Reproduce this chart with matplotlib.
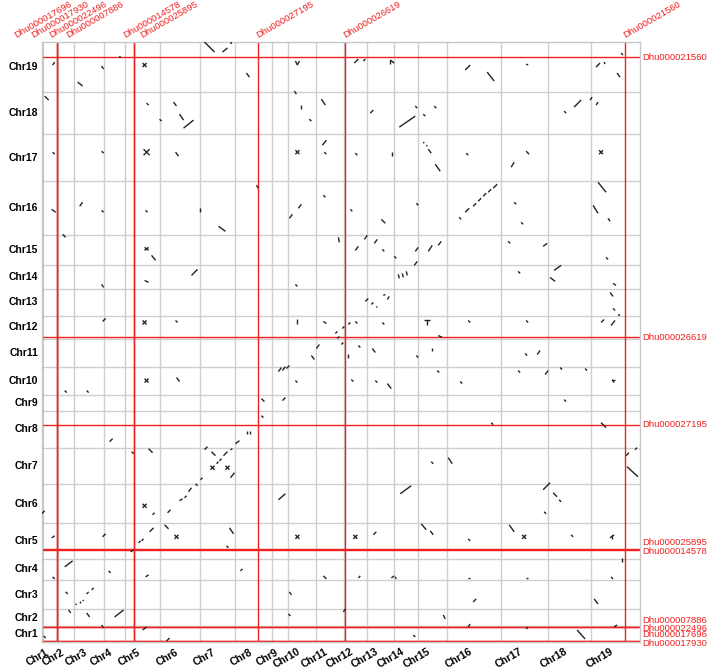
import numpy as np
import matplotlib
matplotlib.use("Agg")
import matplotlib.pyplot as plt
from matplotlib.collections import LineCollection
import matplotlib.transforms as mtransforms

plt.rcParams['font.family'] = ['Liberation Sans', 'DejaVu Sans']

# chromosome names and lengths (same genome on both axes)
chroms = ["Chr%d" % i for i in range(1, 20)]
chrom_len = [16, 16.5, 29.5, 21, 35.5, 39.5, 36, 36.5, 16, 28, 28, 23, 27, 24,
             29.5, 54, 47, 42.5, 49.5]

# highlighted genes: chromosome index (1-based) and position within chromosome
genes = ["Dhu000017696", "Dhu000017930", "Dhu000022496", "Dhu000007886",
         "Dhu000014578", "Dhu000025895", "Dhu000027195", "Dhu000026619",
         "Dhu000021560"]
gene_chr = [1, 1, 1, 1, 5, 5, 8, 12, 19]
gene_pos = [0.5, 0.5, 15.0, 15.3, 9.3, 9.6, 22.8, 1.5, 34.3]

# collinear blocks (x0, y0, x1, y1) on the concatenated genome, grouped by y chromosome
row_chr19 = [(162, 600, 173, 589), (181, 589, 186, 593), (189, 600, 190, 597),
             (11, 576, 13, 579), (36, 559, 41, 555), (60, 575, 62, 572),
             (78, 585, 79, 583), (101, 578, 105, 574), (101, 574, 105, 578),
             (205, 568, 208, 564), (254, 580, 256, 576), (258, 580, 256, 576),
             (313, 578, 317, 582), (322, 580, 324, 582), (349, 581, 353, 578),
             (349, 581, 349, 577), (424, 571, 429, 576), (446, 569, 453, 560),
             (485, 577, 487, 576), (555, 574, 559, 578), (563, 579, 564, 577),
             (580, 588, 582, 586), (576, 568, 579, 564)]
row_chr18 = [(3, 545, 7, 541), (105, 538, 107, 536), (118, 522, 120, 520),
             (132, 539, 135, 535), (138, 527, 142, 521), (142, 513, 152, 521),
             (253, 550, 255, 547), (260, 536, 260, 532), (268, 522, 270, 520),
             (280, 542, 284, 536), (329, 528, 332, 531), (358, 514, 374, 525),
             (374, 535, 376, 533), (382, 527, 384, 525), (393, 535, 395, 533),
             (523, 530, 525, 528), (533, 534, 540, 541), (549, 541, 551, 544),
             (555, 536, 557, 539)]
row_chr17 = [(11, 489, 13, 487), (60, 490, 62, 488), (102, 492, 108, 486),
             (102, 486, 108, 492), (134, 489, 137, 485), (254, 491, 258, 487),
             (254, 487, 258, 491), (281, 496, 285, 501), (283, 489, 285, 487),
             (314, 488, 316, 486), (351, 489, 351, 485), (382, 499, 383, 498),
             (385, 496, 386, 495), (387, 492, 390, 488), (394, 477, 399, 470),
             (425, 488, 427, 486), (470, 474, 473, 479), (485, 490, 488, 487),
             (558, 491, 562, 487), (558, 487, 562, 491)]
row_chr16 = [(10, 432, 14, 429), (38, 435, 41, 439), (60, 431, 62, 429),
             (104, 431, 106, 429), (158, 433, 158, 429), (177, 415, 184, 410),
             (215, 456, 217, 453), (248, 423, 251, 427), (257, 433, 260, 437),
             (282, 446, 284, 444), (309, 432, 311, 430), (340, 422, 344, 418),
             (375, 438, 377, 436), (418, 424, 420, 422), (424, 429, 428, 433),
             (432, 435, 435, 438), (437, 440, 440, 443), (442, 445, 445, 448),
             (447, 449, 450, 452), (452, 453, 456, 457), (473, 439, 475, 437),
             (480, 419, 482, 417), (552, 436, 557, 428), (557, 459, 565, 449),
             (567, 423, 569, 420)]
row_chr15 = [(21, 407, 24, 404), (103, 394, 107, 391), (103, 391, 107, 394),
             (110, 386, 114, 381), (297, 404, 298, 399), (314, 391, 317, 395),
             (323, 402, 326, 406), (333, 398, 336, 402), (341, 392, 343, 390),
             (353, 385, 355, 383), (374, 390, 377, 394), (387, 390, 391, 396),
             (397, 396, 400, 400), (467, 400, 469, 398), (502, 395, 506, 398),
             (565, 384, 567, 382), (373, 376, 376, 380)]
row_chr14 = [(60, 357, 62, 354), (103, 361, 107, 359), (150, 366, 156, 372),
             (254, 357, 256, 355), (357, 367, 358, 363), (361, 368, 362, 364),
             (365, 370, 366, 366), (513, 371, 520, 376), (509, 364, 514, 360),
             (572, 358, 575, 356), (477, 370, 479, 368)]
row_chr13 = [(324, 340, 327, 343), (330, 337, 332, 339), (335, 334, 336, 335),
             (342, 346, 344, 347), (346, 342, 348, 345), (569, 349, 572, 345),
             (572, 333, 574, 331)]
row_chr12 = [(61, 320, 64, 323), (101, 321, 105, 317), (101, 317, 105, 321),
             (134, 321, 136, 319), (256, 322, 256, 317), (282, 320, 285, 318),
             (314, 320, 316, 318), (341, 319, 343, 317), (383, 321, 389, 321),
             (386, 321, 386, 316), (427, 321, 429, 319), (485, 321, 487, 319),
             (560, 319, 563, 322), (570, 316, 574, 321), (577, 326, 579, 327),
             (294, 308, 296, 310), (301, 313, 303, 315), (307, 317, 309, 319)]
row_chr11 = [(296, 303, 298, 305), (300, 297, 302, 299), (270, 286, 273, 282),
             (275, 293, 278, 297), (307, 288, 307, 284), (317, 296, 319, 294),
             (331, 293, 334, 289), (375, 286, 377, 284), (391, 294, 391, 291),
             (397, 306, 401, 304), (484, 288, 486, 286), (496, 287, 499, 291)]
row_chr10 = [(103, 263, 107, 259), (103, 259, 107, 263), (135, 264, 138, 260),
             (237, 270, 240, 274), (241, 271, 244, 275), (245, 273, 248, 276),
             (254, 261, 256, 259), (310, 262, 312, 260), (334, 261, 336, 259),
             (346, 258, 350, 253), (396, 271, 398, 269), (419, 260, 421, 258),
             (477, 271, 479, 269), (504, 267, 507, 271), (519, 274, 521, 272),
             (544, 273, 546, 271), (571, 262, 573, 259), (571, 262, 574, 262),
             (23, 251, 25, 249), (45, 251, 47, 249)]
row_chr9 = [(220, 243, 223, 240), (241, 241, 244, 244), (523, 242, 525, 240)]
row_chr8 = [(68, 200, 71, 203), (206, 211, 206, 208), (209, 211, 209, 208),
            (220, 226, 222, 224), (450, 219, 452, 217), (560, 219, 565, 214)]
row_chr7 = [(194, 198, 198, 201), (189, 192, 191, 193), (182, 186, 186, 190),
            (170, 190, 174, 186), (175, 178, 177, 180), (178, 181, 180, 183),
            (169, 176, 173, 172), (169, 172, 173, 176), (184, 176, 188, 172),
            (184, 172, 188, 176), (189, 164, 193, 169), (163, 192, 166, 195),
            (159, 162, 161, 164), (90, 190, 92, 188), (107, 193, 111, 189),
            (407, 184, 411, 178), (390, 180, 392, 178), (585, 186, 588, 189),
            (594, 192, 596, 194), (586, 175, 597, 165)]
row_chr6 = [(0, 128, 3, 131), (154, 158, 156, 156), (147, 150, 150, 154),
            (143, 144, 145, 146), (138, 141, 141, 143), (126, 129, 129, 132),
            (111, 127, 113, 129), (101, 138, 105, 134), (101, 134, 105, 138),
            (237, 142, 244, 148), (359, 148, 370, 156), (502, 152, 509, 159),
            (512, 149, 516, 145), (518, 142, 520, 140), (503, 130, 505, 128)]
row_chr5 = [(10, 104, 13, 106), (61, 105, 64, 108), (97, 99, 99, 101),
            (100, 101, 102, 103), (89, 90, 92, 92), (108, 110, 112, 114),
            (123, 117, 127, 113), (133, 107, 137, 103), (133, 103, 137, 107),
            (188, 114, 192, 108), (185, 96, 187, 94), (254, 107, 258, 103),
            (254, 103, 258, 107), (312, 107, 316, 103), (312, 103, 316, 107),
            (332, 107, 335, 110), (380, 118, 385, 112), (389, 111, 392, 107),
            (427, 103, 429, 101), (468, 117, 473, 110), (481, 107, 485, 103),
            (481, 103, 485, 107), (530, 107, 532, 105), (569, 104, 573, 107),
            (571, 107, 571, 103), (581, 84, 581, 80)]
row_chr4 = [(11, 65, 13, 63), (23, 75, 31, 81), (67, 71, 69, 69),
            (104, 65, 107, 67), (199, 71, 201, 73), (282, 66, 285, 63),
            (317, 64, 319, 66), (350, 64, 353, 66), (354, 65, 355, 63),
            (427, 64, 429, 64), (485, 64, 487, 64), (570, 65, 572, 63)]
row_chr3 = [(24, 50, 26, 48), (34, 37, 35, 38), (38, 39, 38, 41),
            (41, 41, 42, 42), (45, 48, 47, 50), (50, 52, 52, 54),
            (248, 50, 250, 47), (432, 40, 435, 43), (553, 43, 557, 38)]
row_chr2 = [(27, 32, 29, 29), (45, 29, 48, 25), (73, 25, 82, 32),
            (247, 28, 249, 26), (302, 30, 304, 33), (402, 27, 404, 23),
            (427, 15, 429, 18), (536, 12, 544, 3), (573, 15, 576, 17)]
row_chr1 = [(2, 6, 4, 4), (60, 17, 62, 14), (101, 12, 105, 15),
            (125, 1, 128, 4), (372, 7, 374, 5), (485, 13, 487, 15)]

blocks = (row_chr19 + row_chr18 + row_chr17 + row_chr16 + row_chr15 + row_chr14 +
          row_chr13 + row_chr12 + row_chr11 + row_chr10 + row_chr9 + row_chr8 +
          row_chr7 + row_chr6 + row_chr5 + row_chr4 + row_chr3 + row_chr2 + row_chr1)

bounds = np.concatenate([[0], np.cumsum(chrom_len)])
total = bounds[-1]
centers = (bounds[:-1] + bounds[1:]) / 2.0
gene_abs = np.array([bounds[c - 1] + p for c, p in zip(gene_chr, gene_pos)])

fig = plt.figure(figsize=(7.09, 6.70), dpi=100)
ax = fig.add_axes([0.0588, 0.0418, 0.8439, 0.8955])
ax.set_xlim(0, total)
ax.set_ylim(0, total)
ax.set_xticks([])
ax.set_yticks([])
for s in ax.spines.values():
    s.set_color("#c8c8c8")
    s.set_linewidth(1.0)

grey = "#cfcfcf"
for b in bounds[1:-1]:
    ax.axvline(b, color=grey, lw=1.0, zorder=1)
    ax.axhline(b, color=grey, lw=1.0, zorder=1)

red = "#f02020"
for g in gene_abs:
    ax.axvline(g, color=red, lw=1.0, zorder=2)
    ax.axhline(g, color=red, lw=1.0, zorder=2)

segs = [[(b[0], b[1]), (b[2], b[3])] for b in blocks]
ax.add_collection(LineCollection(segs, colors="#222222", linewidths=1.0, zorder=3))

# chromosome labels
tr_left = mtransforms.blended_transform_factory(ax.transAxes, ax.transData)
tr_bot = mtransforms.blended_transform_factory(ax.transData, ax.transAxes)
shift_bot = tr_bot + mtransforms.ScaledTranslation(-5 / 100, 0, fig.dpi_scale_trans)
for c, name in zip(centers, chroms):
    ax.text(-0.006, c, name, transform=tr_left,
            ha="right", va="center", fontsize=7.5, fontweight="bold")
    ax.text(c, -0.008, name, transform=shift_bot,
            ha="right", va="top", rotation=30, rotation_mode="anchor",
            fontsize=7.5, fontweight="bold")


def spread(pos, gap, shift, anchor_first):
    order = sorted(range(len(pos)), key=lambda i: pos[i])
    groups = [[order[0]]]
    for i in order[1:]:
        if pos[i] - pos[groups[-1][-1]] < gap:
            groups[-1].append(i)
        else:
            groups.append([i])
    out = [0.0] * len(pos)
    for grp in groups:
        n = len(grp)
        if anchor_first:
            c = pos[grp[0]] + shift
        else:
            c = np.mean([pos[i] for i in grp])
            if n > 1:
                c += shift
        for k, i in enumerate(grp):
            out[i] = c + (k - (n - 1) / 2.0) * gap
    return out


# top labels, left to right
top_x = spread(list(gene_abs), 17.5, 1, True)
for name, x in zip(genes, top_x):
    ax.text(x, 1.004, name, transform=tr_bot, rotation=30, rotation_mode="anchor",
            ha="left", va="bottom", fontsize=6.8, color=red)

# right labels, top to bottom (descending position)
neg = [-g for g in gene_abs]
right_y = spread(neg, 8.4, -2.5, False)
for name, y in zip(genes, right_y):
    ax.text(1.004, -y, name, transform=tr_left, ha="left", va="center",
            fontsize=6.8, color=red)

fig.savefig("out.png", dpi=100)
